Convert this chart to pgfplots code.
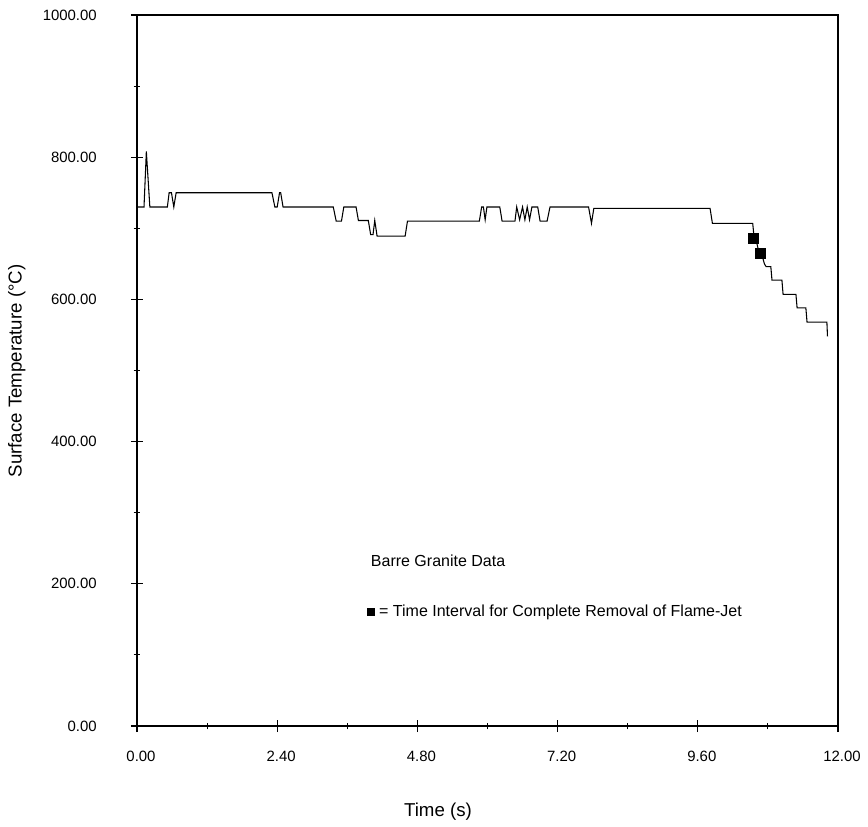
\documentclass[border=0pt]{standalone}
\usepackage{fontspec}
\setmainfont{Liberation Sans}
\usepackage{pgfplots}
\pgfplotsset{compat=1.18}
\begin{document}
\begin{tikzpicture}
\path[use as bounding box] (0,0) rectangle (651pt,619.5pt);
\begin{axis}[
  scale only axis,
  width=525.75pt, height=533.25pt,
  at={(102.75pt,75pt)}, anchor=south west,
  xmin=0, xmax=12, ymin=0, ymax=1000,
  axis line style={line width=0.9pt},
  xtick={0,2.4,4.8,7.2,9.6,12},
  xticklabels={0.00,2.40,4.80,7.20,9.60,12.00},
  minor xtick={1.2,3.6,6,8.4,10.8},
  ytick={0,200,400,600,800,1000},
  yticklabels={0.00,200.00,400.00,600.00,800.00,1000.00},
  minor ytick={100,300,500,700,900},
  xtick pos=bottom, ytick pos=left,
  tick align=center,
  major tick length=9pt, minor tick length=5pt,
  tick style={line width=0.8pt, black},
  /pgf/number format/assume math mode=true,
  ticklabel style={font=\fontsize{11.2}{13}\selectfont},
  yticklabel style={anchor=east, inner sep=0pt, xshift=-25.5pt},
  xticklabel style={anchor=north, inner sep=0pt, yshift=-14pt, xshift=3pt},
  xlabel={Time (s)},
  ylabel={Surface Temperature (°C)},
  label style={font=\fontsize{14}{16}\selectfont},
  xlabel style={at={(axis description cs:0.4294,-0.121)}, anchor=center},
  ylabel style={at={(axis description cs:-0.1716,0.4993)}, anchor=center},
  clip=false,
]
% Barre granite surface temperature trace
\addplot[black, line width=0.8pt] coordinates {
(0.00,730) (0.12,730) (0.16,808) (0.22,730) (0.52,730) (0.55,750) (0.59,750)
(0.63,730) (0.67,750) (2.31,750) (2.36,730) (2.40,730) (2.44,750) (2.46,750)
(2.50,730) (3.36,730) (3.41,710) (3.50,710) (3.54,730) (3.75,730) (3.79,711)
(3.96,711) (4.00,691) (4.04,691) (4.07,711) (4.11,689) (4.59,689) (4.63,710)
(5.86,710) (5.90,730) (5.93,730) (5.96,712) (5.99,730) (6.21,730) (6.25,710)
(6.47,710) (6.50,730) (6.55,712) (6.60,730) (6.64,712) (6.68,730) (6.72,712)
(6.76,730) (6.86,730) (6.90,710) (7.02,710) (7.07,730) (7.73,730) (7.78,707)
(7.82,728) (9.81,728) (9.85,707) (10.54,707) (10.56,690) (10.60,683) (10.63,672)
(10.70,662) (10.74,650) (10.77,646) (10.85,646) (10.87,627) (11.04,627)
(11.06,607) (11.28,607) (11.30,588) (11.45,588) (11.47,568) (11.81,568)
(11.82,548)
};
% flame-jet removal interval markers
\addplot[only marks, mark=square*, mark size=3.9pt, black] coordinates {
(10.55,686) (10.67,665)
};
\node[anchor=west, inner sep=0pt, font=\fontsize{12}{14}\selectfont] at (axis cs:4.0,233) {Barre Granite Data};
\node[anchor=west, inner sep=0pt, font=\fontsize{12}{14}\selectfont] at (axis cs:3.94,160) {\rule{5.5pt}{6pt} = Time Interval for Complete Removal of Flame-Jet};
\end{axis}
\end{tikzpicture}
\end{document}
